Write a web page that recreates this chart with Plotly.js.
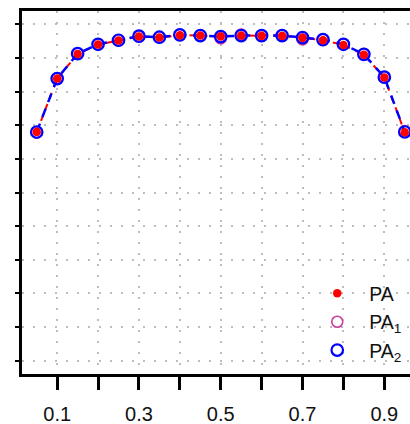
<!DOCTYPE html>
<html>
<head>
<meta charset="utf-8">
<script src="https://cdn.plot.ly/plotly-3.0.1.min.js"></script>
<style>html,body{margin:0;padding:0;background:#fff;}#chart{width:410px;height:424px;}</style>
</head>
<body>
<div id="chart"></div>
<script>
// Data
const xVals = [0.05, 0.10, 0.15, 0.20, 0.25, 0.30, 0.35, 0.40, 0.45, 0.50,
               0.55, 0.60, 0.65, 0.70, 0.75, 0.80, 0.85, 0.90, 0.95];
const paVals  = [0.680, 0.839, 0.912, 0.940, 0.952, 0.964, 0.961, 0.968, 0.967, 0.964,
                 0.967, 0.966, 0.966, 0.960, 0.953, 0.939, 0.910, 0.842, 0.679];
const pa1Vals = [0.678, 0.840, 0.913, 0.941, 0.953, 0.964, 0.962, 0.969, 0.967, 0.959,
                 0.970, 0.966, 0.967, 0.956, 0.954, 0.941, 0.912, 0.843, 0.683];
const pa2Vals = [0.680, 0.839, 0.913, 0.941, 0.953, 0.965, 0.962, 0.969, 0.967, 0.964,
                 0.967, 0.967, 0.967, 0.961, 0.955, 0.941, 0.911, 0.843, 0.680];
const seriesNames = ['PA', 'PA<sub>1</sub>', 'PA<sub>2</sub>'];
const xLabelVals = [0.1, 0.3, 0.5, 0.7, 0.9];
const xLabelText = ['0.1', '0.3', '0.5', '0.7', '0.9'];
const xMinorVals = [0.2, 0.4, 0.6, 0.8];
const yTickVals = [0, 0.1, 0.2, 0.3, 0.4, 0.5, 0.6, 0.7, 0.8, 0.9, 1.0];

const RED = '#ff0000', BLUE = '#0000ff', MAG = '#cc3d99';

const traces = [
  {x: xVals, y: paVals, mode: 'lines', showlegend: false, hoverinfo: 'skip',
   line: {color: RED, width: 2, dash: '6px,6px'}},
  {x: xVals, y: pa2Vals, mode: 'lines', showlegend: false, hoverinfo: 'skip',
   line: {color: BLUE, width: 2.5, dash: '9px,7px'}},
  {x: xVals, y: pa1Vals, mode: 'markers', name: seriesNames[1], legendrank: 2, cliponaxis: false,
   marker: {symbol: 'circle-open', size: 11, color: MAG, line: {width: 1.6, color: MAG}}},
  {x: xVals, y: pa2Vals, mode: 'markers', name: seriesNames[2], legendrank: 3, cliponaxis: false,
   marker: {symbol: 'circle-open', size: 11.5, color: BLUE, line: {width: 2.2, color: BLUE}}},
  {x: xVals, y: paVals, mode: 'markers', name: seriesNames[0], legendrank: 1, cliponaxis: false,
   marker: {symbol: 'circle', size: 8.5, color: RED, line: {width: 0}}}
];

const gridStyle = {showgrid: true, gridcolor: '#bdbdbd', gridwidth: 2, griddash: '2px,9px'};

const layout = {
  width: 410, height: 424,
  margin: {l: 21.8, r: 0, t: 10.5, b: 49.5, pad: 0},
  paper_bgcolor: '#ffffff', plot_bgcolor: '#ffffff',
  font: {family: 'Liberation Sans, Arial, sans-serif', color: '#000'},
  showlegend: true,
  legend: {x: 0.73, xanchor: 'left', y: 0.275, yanchor: 'top',
           bgcolor: 'rgba(0,0,0,0)', borderwidth: 0, itemwidth: 54,
           font: {size: 19.5, color: '#111'}, tracegroupgap: 0},
  xaxis: Object.assign({
    range: [0.014, 0.9628], tickvals: xLabelVals, ticktext: xLabelText,
    ticks: 'outside', ticklen: 13, tickwidth: 3, tickcolor: '#000',
    ticklabelstandoff: 7,
    minor: Object.assign({tickvals: xMinorVals, ticks: 'outside', ticklen: 13,
                          tickwidth: 3, tickcolor: '#000'}, gridStyle),
    showline: true, linewidth: 3, linecolor: '#000', mirror: true,
    zeroline: false, tickfont: {size: 20, color: '#111'}
  }, gridStyle),
  yaxis: Object.assign({
    range: [-0.04, 1.04], tickvals: yTickVals, showticklabels: false,
    ticks: 'outside', ticklen: 4, tickwidth: 2, tickcolor: '#000',
    showline: true, linewidth: 3, linecolor: '#000', mirror: false,
    zeroline: false
  }, gridStyle)
};

Plotly.newPlot('chart', traces, layout, {staticPlot: true, displayModeBar: false});
</script>
</body>
</html>
